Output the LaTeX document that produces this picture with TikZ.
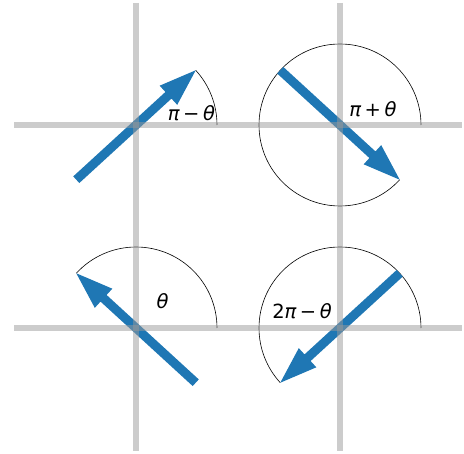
\documentclass[tikz,border=0pt]{standalone}
\usepackage{fontspec}
\setmainfont{DejaVu Sans}
\definecolor{mplblue}{HTML}{1F77B4}
\definecolor{axgray}{gray}{0.6}
\tikzset{
  axisline/.style={draw=axgray, line width=6pt, opacity=0.5},
  anglearc/.style={draw=black, line width=0.6pt},
  blockarrow/.style={fill=mplblue, draw=none},
  anglelabel/.style={font=\fontsize{19.5}{22}\selectfont, inner sep=0pt, anchor=center},
}
\newcommand{\myarrow}[3]{%
  \begin{scope}[shift={(#1,#2)}, rotate=#3]
    \fill[blockarrow] (-81,-4.5) -- (44,-4.5) -- (44,-13) -- (81,0) -- (44,13) -- (44,4.5) -- (-81,4.5) -- cycle;
  \end{scope}}
\newcommand{\myarc}[3]{%
  \draw[anglearc] (#1+81,#2) arc[start angle=0, end angle=-#3, radius=81];}
\newcommand{\opgap}{\hspace{3.5pt}}
\begin{document}
\begin{tikzpicture}[x=1pt,y=-1pt]
  \useasboundingbox (0,0) rectangle (464,454);
  % arcs
  \myarc{136}{125}{42.5}
  \myarc{340}{125}{317.5}
  \myarc{136}{328}{137.5}
  \myarc{340}{328}{222.5}
  % arrows
  \myarrow{136}{125}{42.5}
  \myarrow{340}{125}{317.5}
  \myarrow{136}{328}{137.5}
  \myarrow{340}{328}{222.5}
  % axes
  \coordinate (v1t) at (136,3);  \coordinate (v1b) at (136,451);
  \coordinate (v2t) at (340,3);  \coordinate (v2b) at (340,451);
  \coordinate (h1l) at (14,125); \coordinate (h1r) at (462,125);
  \coordinate (h2l) at (14,328); \coordinate (h2r) at (462,328);
  \draw[axisline] (v1t) -- (v1b);
  \draw[axisline] (v2t) -- (v2b);
  \draw[axisline] (h1l) -- (h1r);
  \draw[axisline] (h2l) -- (h2r);
  % labels
  \node[anglelabel] (lTL) at (191.5,113) {\itshape π\opgap{\upshape −}\opgap θ};
  \node[anglelabel] (lTR) at (373,109.5) {\itshape π\opgap{\upshape +}\opgap θ};
  \node[anglelabel] (lBL) at (162.5,301) {\itshape θ};
  \node[anglelabel] (lBR) at (302,311) {{\upshape 2}\itshape π\opgap{\upshape −}\opgap θ};
\end{tikzpicture}
\end{document}
